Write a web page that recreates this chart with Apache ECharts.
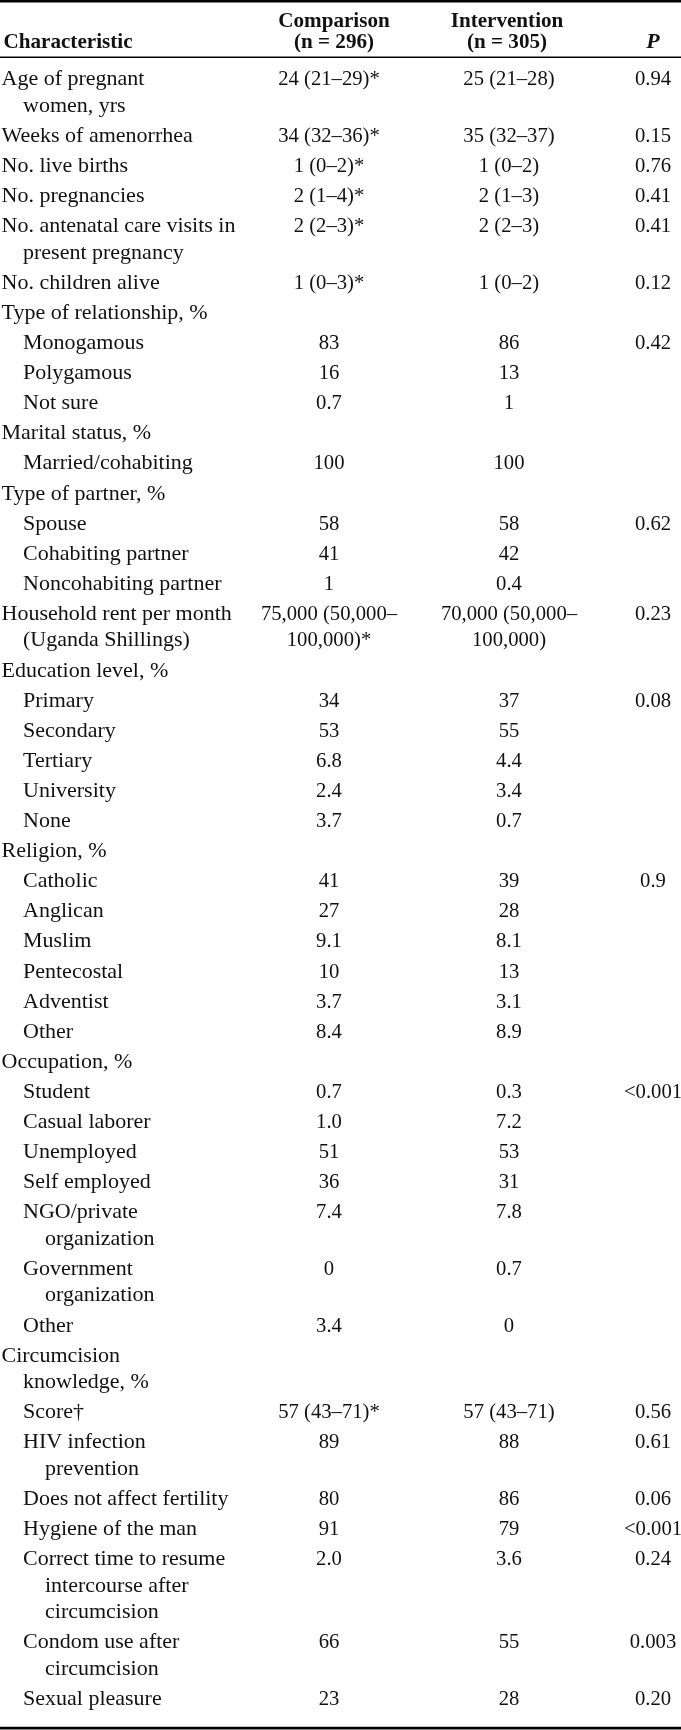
<!DOCTYPE html>
<html>
<head>
<meta charset="utf-8">
<script src="https://cdn.jsdelivr.net/npm/echarts@6/dist/echarts.min.js"></script>
<style>
html,body{margin:0;padding:0;background:#ffffff;}
#chart{width:681px;height:1730px;}
</style>
</head>
<body>
<div id="chart"></div>
<script>
// ---------------- DATA ----------------
const headerTitles = ['Characteristic', 'Comparison\n(n = 296)', 'Intervention\n(n = 305)', 'P'];

const labels = [
  'Age of pregnant\nwomen, yrs',
  'Weeks of amenorrhea',
  'No. live births',
  'No. pregnancies',
  'No. antenatal care visits in\npresent pregnancy',
  'No. children alive',
  'Type of relationship, %',
  'Monogamous',
  'Polygamous',
  'Not sure',
  'Marital status, %',
  'Married/cohabiting',
  'Type of partner, %',
  'Spouse',
  'Cohabiting partner',
  'Noncohabiting partner',
  'Household rent per month\n(Uganda Shillings)',
  'Education level, %',
  'Primary',
  'Secondary',
  'Tertiary',
  'University',
  'None',
  'Religion, %',
  'Catholic',
  'Anglican',
  'Muslim',
  'Pentecostal',
  'Adventist',
  'Other',
  'Occupation, %',
  'Student',
  'Casual laborer',
  'Unemployed',
  'Self employed',
  'NGO/private\norganization',
  'Government\norganization',
  'Other',
  'Circumcision\nknowledge, %',
  'Score\u2020',
  'HIV infection\nprevention',
  'Does not affect fertility',
  'Hygiene of the man',
  'Correct time to resume\nintercourse after\ncircumcision',
  'Condom use after\ncircumcision',
  'Sexual pleasure'
];

// 0 = section / top-level row, 1 = sub-item
const levels = [0,0,0,0,0,0,0,1,1,1,0,1,0,1,1,1,0,0,1,1,1,1,1,0,1,1,1,1,1,1,0,1,1,1,1,1,1,1,0,1,1,1,1,1,1,1];

const comparison = [
  '24 (21\u201329)*','34 (32\u201336)*','1 (0\u20132)*','2 (1\u20134)*','2 (2\u20133)*','1 (0\u20133)*','',
  '83','16','0.7','','100','','58','41','1',
  '75,000 (50,000\u2013\n100,000)*','',
  '34','53','6.8','2.4','3.7','',
  '41','27','9.1','10','3.7','8.4','',
  '0.7','1.0','51','36','7.4','0','3.4','',
  '57 (43\u201371)*','89','80','91','2.0','66','23'
];

const intervention = [
  '25 (21\u201328)','35 (32\u201337)','1 (0\u20132)','2 (1\u20133)','2 (2\u20133)','1 (0\u20132)','',
  '86','13','1','','100','','58','42','0.4',
  '70,000 (50,000\u2013\n100,000)','',
  '37','55','4.4','3.4','0.7','',
  '39','28','8.1','13','3.1','8.9','',
  '0.3','7.2','53','31','7.8','0.7','0','',
  '57 (43\u201371)','88','86','79','3.6','55','28'
];

const pValues = [
  '0.94','0.15','0.76','0.41','0.41','0.12','',
  '0.42','','','','','','0.62','','',
  '0.23','',
  '0.08','','','','','',
  '0.9','','','','','','',
  '<0.001','','','','','','','',
  '0.56','0.61','0.06','<0.001','0.24','0.003','0.20'
];

// ---------------- LAYOUT / STYLE ----------------
const W = 681, H = 1730;
const FONT = '"Liberation Serif", "Times New Roman", Times, serif';
const FS = 22;
const INK = '#111111';
const FIRST_BASELINE = 87;
const ROW_STEP = 30.1;
const LINE_STEP = 26.5;
const MID = 7.4;            // baseline -> text middle
const X_LABEL = [1.5, 23];  // first-line x by level
const X_WRAP = [23, 45];    // continuation x by level
const X_COMP = 329, X_INT = 509, X_P = 653;
const X_HEAD = [3.5, 334, 507, 653];
const HEAD_BASE1 = 29, HEAD_BASE2 = 50;
const VALUE_SQUEEZE = 0.94, HEAD_SQUEEZE = 0.96;
const RULES = [[0, 2.6], [56.5, 1.4], [1726.8, 2.6]]; // [y, thickness]

// baselines of each row from its line count
const lineCount = labels.map((l, i) => Math.max(
  l.split('\n').length, comparison[i].split('\n').length,
  intervention[i].split('\n').length, pValues[i].split('\n').length));
const baselines = [];
let b = FIRST_BASELINE;
for (let i = 0; i < labels.length; i++) {
  baselines.push(b);
  b += (lineCount[i] - 1) * LINE_STEP + ROW_STEP;
}

function txt(pt, text, align, extra, sx) {
  return {
    type: 'text', x: pt[0], y: pt[1], scaleX: sx || 1,
    style: Object.assign({
      text: text, fill: INK, font: FS + 'px ' + FONT,
      align: align, verticalAlign: 'middle'
    }, extra || {})
  };
}

const chart = echarts.init(document.getElementById('chart'), null, {renderer: 'canvas'});

chart.setOption({
  animation: false,
  backgroundColor: '#ffffff',
  grid: {left: 0, right: 0, top: 0, bottom: 0},
  xAxis: {type: 'value', min: 0, max: W, show: false},
  yAxis: {type: 'value', min: 0, max: H, inverse: true, show: false},
  series: [
    {
      type: 'custom', name: 'rules', silent: true, clip: false,
      data: RULES,
      renderItem: function (params, api) {
        const y = api.value(0), t = api.value(1);
        const p0 = api.coord([0, y]), p1 = api.coord([W, y + t]);
        return {type: 'rect', shape: {x: p0[0], y: p0[1], width: p1[0] - p0[0], height: p1[1] - p0[1]},
                style: {fill: '#000000'}};
      }
    },
    {
      type: 'custom', name: 'header', silent: true, clip: false,
      data: [[HEAD_BASE1, HEAD_BASE2]],
      renderItem: function (params, api) {
        const base1 = api.value(0), base2 = api.value(1);
        const bold = {font: 'bold ' + FS + 'px ' + FONT};
        const children = [];
        children.push(txt(api.coord([X_HEAD[0], base2 - MID]), headerTitles[0], 'left', bold, HEAD_SQUEEZE));
        [1, 2].forEach(function (k) {
          const parts = headerTitles[k].split('\n');
          children.push(txt(api.coord([X_HEAD[k], base1 - MID]), parts[0], 'center', bold, HEAD_SQUEEZE));
          children.push(txt(api.coord([X_HEAD[k], base2 - MID]), parts[1], 'center', bold, HEAD_SQUEEZE));
        });
        children.push(txt(api.coord([X_HEAD[3], base2 - MID]), headerTitles[3], 'center',
          {font: 'italic bold ' + FS + 'px ' + FONT}));
        return {type: 'group', children: children};
      }
    },
    {
      type: 'custom', name: 'rows', silent: true, clip: false,
      data: baselines.map(function (y, i) { return [i, y]; }),
      renderItem: function (params, api) {
        const i = api.value(0), base = api.value(1);
        const lv = levels[i];
        const children = [];
        labels[i].split('\n').forEach(function (line, j) {
          const x = j === 0 ? X_LABEL[lv] : X_WRAP[lv];
          children.push(txt(api.coord([x, base + j * LINE_STEP - MID]), line, 'left'));
        });
        [[X_COMP, comparison[i]], [X_INT, intervention[i]], [X_P, pValues[i]]].forEach(function (c) {
          if (!c[1]) return;
          c[1].split('\n').forEach(function (line, j) {
            children.push(txt(api.coord([c[0], base + j * LINE_STEP - MID]), line, 'center', null, VALUE_SQUEEZE));
          });
        });
        return {type: 'group', children: children};
      }
    }
  ]
});
</script>
</body>
</html>
